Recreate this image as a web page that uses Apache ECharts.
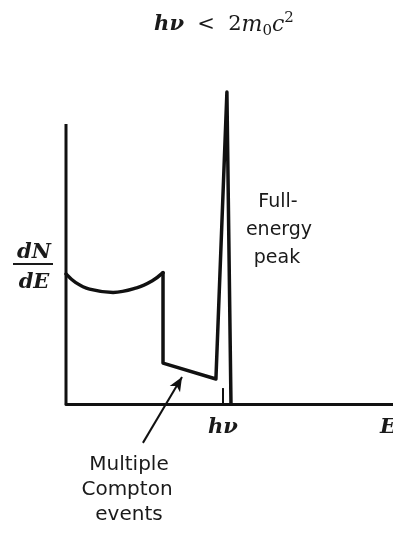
<!DOCTYPE html>
<html>
<head>
<meta charset="utf-8">
<script src="https://cdn.jsdelivr.net/npm/echarts@6/dist/echarts.min.js"></script>
<style>
  html, body { margin: 0; padding: 0; background: #fff; }
  #chart { width: 393px; height: 534px; }
</style>
</head>
<body>
<div id="chart"></div>
<script>
// Energy in units of the photon energy hν; dN/dE in arbitrary units.
// Multiple-Compton continuum (smooth part of the spectrum)
const continuumEnergy = [0, 0.06, 0.15, 0.30, 0.45, 0.55, 0.618];
const continuumCounts = [40.2, 37.6, 35.5, 34.5, 35.9, 38.1, 40.6];
// Compton edge drop, plateau and the full-energy peak
const peakEnergy = [0.618, 0.618, 0.955, 1.025, 1.051];
const peakCounts = [40.6, 12.7, 7.8, 96.3, 0];
const yAxisTop = 86.4;          // height of the drawn dN/dE axis
const photonEnergy = 1;         // hν marker position
const markerHeight = 5.0;
const arrowFrom = [0.49, -11.9];
const arrowTo = [0.739, 8.4];

const ink = '#111';
const continuum = continuumEnergy.map((e, i) => [e, continuumCounts[i]]);
const peak = peakEnergy.map((e, i) => [e, peakCounts[i]]);

const serif = "'DejaVu Serif', 'Liberation Serif', serif";
const sans = "'DejaVu Sans', 'Liberation Sans', sans-serif";

const chart = echarts.init(document.getElementById('chart'), null, { renderer: 'canvas' });

function txt(text, x, y, font, align) {
  return {
    type: 'text', x: x, y: y,
    style: { text: text, font: font, fill: '#1a1a1a', align: align || 'center', verticalAlign: 'middle' }
  };
}

chart.setOption({
  animation: false,
  backgroundColor: '#fff',
  grid: { left: 66, right: 0, top: 80, bottom: 0 },
  xAxis: {
    type: 'value', min: 0, max: 2.083,
    axisLine: { show: true, onZero: true, lineStyle: { color: ink, width: 3 } },
    axisTick: { show: false }, axisLabel: { show: false }, splitLine: { show: false }
  },
  yAxis: {
    type: 'value', min: -40, max: 100,
    axisLine: { show: false }, axisTick: { show: false },
    axisLabel: { show: false }, splitLine: { show: false }
  },
  series: [
    {
      name: 'dN/dE axis', type: 'line', symbol: 'none', silent: true,
      data: [[0, 0], [0, yAxisTop]],
      lineStyle: { color: ink, width: 3 }
    },
    {
      name: 'continuum', type: 'line', symbol: 'none', silent: true, smooth: 0.4,
      data: continuum,
      lineStyle: { color: ink, width: 3.5, cap: 'round' }
    },
    {
      name: 'peak', type: 'line', symbol: 'none', silent: true, smooth: false,
      data: peak,
      lineStyle: { color: ink, width: 3.5, join: 'round', cap: 'round' }
    },
    {
      name: 'hν marker', type: 'line', symbol: 'none', silent: true,
      data: [[photonEnergy, 0], [photonEnergy, markerHeight]],
      lineStyle: { color: ink, width: 2 },
      markLine: {
        silent: true, animation: false,
        symbol: ['none', 'arrow'], symbolSize: [9, 14],
        label: { show: false },
        lineStyle: { type: 'solid', color: ink, width: 2 },
        data: [[{ coord: arrowFrom }, { coord: arrowTo }]]
      }
    }
  ],
  graphic: [
    {
      type: 'text', x: 224, y: 25,
      style: {
        text: '{h|hν}{n|  <  2}{i|m}{sub|0}{i|c}{sup|2}',
        align: 'center', verticalAlign: 'middle', fill: '#1a1a1a',
        rich: {
          h: { font: 'italic bold 21px ' + serif, fill: '#1a1a1a', lineHeight: 28 },
          i: { font: 'italic 22px ' + serif, fill: '#1a1a1a', lineHeight: 28 },
          n: { font: '21px ' + serif, fill: '#1a1a1a', lineHeight: 28 },
          sub: { font: '15px ' + serif, fill: '#1a1a1a', lineHeight: 28, verticalAlign: 'bottom' },
          sup: { font: '15px ' + serif, fill: '#1a1a1a', lineHeight: 28, verticalAlign: 'top' }
        }
      }
    },
    txt('dN', 34, 253, 'italic bold 21px ' + serif),
    { type: 'line', shape: { x1: 13, y1: 264, x2: 53, y2: 264 }, style: { stroke: '#1a1a1a', lineWidth: 2 } },
    txt('dE', 34, 283, 'italic bold 21px ' + serif),
    txt('hν', 223, 428, 'italic bold 21px ' + serif),
    txt('E', 380, 428, 'italic bold 21px ' + serif, 'left'),
    txt('Full-', 278, 202, '19px ' + sans),
    txt('energy', 279, 230, '19px ' + sans),
    txt('peak', 277, 258, '19px ' + sans),
    txt('Multiple', 129, 465, '20px ' + sans),
    txt('Compton', 127, 490, '20px ' + sans),
    txt('events', 129, 515, '20px ' + sans)
  ]
});
</script>
</body>
</html>
